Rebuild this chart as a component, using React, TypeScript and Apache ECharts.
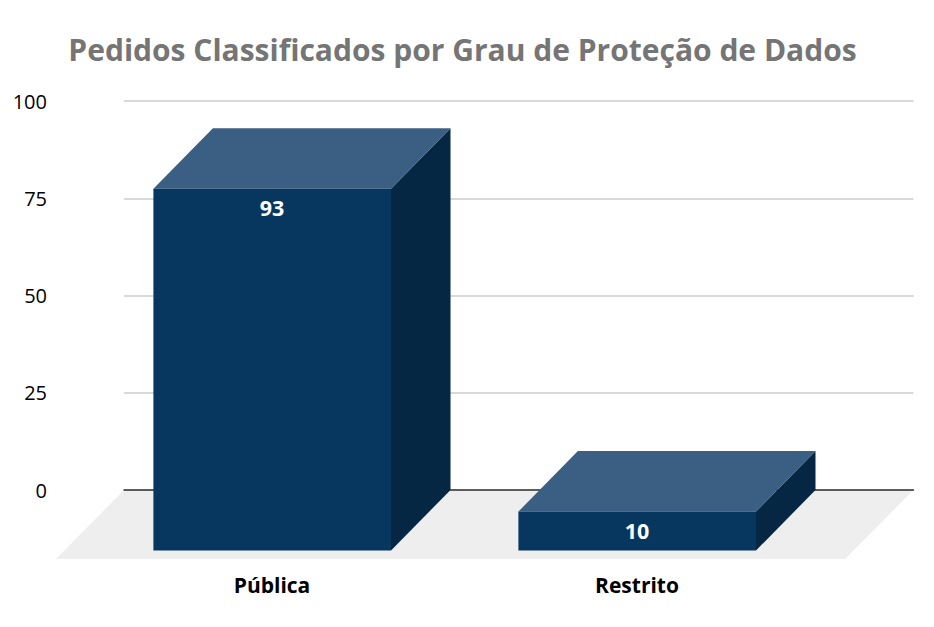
import React, { useEffect, useRef } from "react";
import * as echarts from "echarts";

const categories = ["Pública", "Restrito"];
const values = [93, 10];
const axisTicks = [0, 25, 50, 75, 100];
const titleText = "Pedidos Classificados por Grau de Proteção de Dados";
const depthX = 59.5;
const depthY = 60.5;

function renderBar(params: any, api: any) {
  const cat = api.value(0);
  const val = api.value(1);
  const centre = api.coord([cat, 0]);
  const top = api.coord([cat, val]);
  const bw = 237.6;
  const x0 = centre[0] - bw / 2 + 0.2;
  const x1 = x0 + bw;
  const yTopFront = top[1] + depthY;
  const yBottomFront = centre[1] + depthY;
  const poly = (pts: number[][], fill: string) => ({
    type: "polygon",
    shape: { points: pts },
    style: { fill },
  });
  return {
    type: "group",
    children: [
      poly(
        [
          [x1, yTopFront],
          [x1 + depthX, yTopFront - depthY],
          [x1 + depthX, yBottomFront - depthY],
          [x1, yBottomFront],
        ],
        "#052744"
      ),
      poly(
        [
          [x0, yTopFront],
          [x0 + depthX, yTopFront - depthY],
          [x1 + depthX, yTopFront - depthY],
          [x1, yTopFront],
        ],
        "#3A5F83"
      ),
      poly(
        [
          [x0, yTopFront],
          [x1, yTopFront],
          [x1, yBottomFront],
          [x0, yBottomFront],
        ],
        "#07365F"
      ),
      {
        type: "text",
        style: {
          x: centre[0],
          y: yTopFront + 19,
          text: String(val),
          fill: "#ffffff",
          font: "bold 21.5px 'Open Sans'",
          align: "center",
          verticalAlign: "middle",
        },
      },
    ],
  };
}

export default function App() {
  const ref = useRef<HTMLDivElement>(null);
  useEffect(() => {
    const chart = echarts.init(ref.current!, undefined, { renderer: "svg" });
    chart.setOption({
      animation: false,
      backgroundColor: "#ffffff",
      title: {
        text: titleText,
        left: 457.5,
        top: 29,
        textAlign: "center",
        textStyle: { color: "#757575", fontSize: 30, fontWeight: "bold", fontFamily: "Open Sans" },
      },
      graphic: [
        {
          type: "polygon",
          z: -1,
          shape: { points: [[124, 490], [913.5, 490], [845, 559], [56, 559]] },
          style: { fill: "#EEEEEE" },
        },
      ],
      grid: [
        { left: 124, right: 20.5, top: 101, bottom: 137 },
        { left: 89.5, width: 730, top: 101, bottom: 137 },
      ],
      xAxis: [
        {
          gridIndex: 0,
          type: "category",
          data: categories,
          axisLine: { show: true, lineStyle: { color: "#333333", width: 1.5 } },
          axisTick: { show: false },
          axisLabel: { show: false },
          splitLine: { show: false },
        },
        {
          gridIndex: 1,
          type: "category",
          data: categories,
          axisLine: { show: false },
          axisTick: { show: false },
          axisLabel: {
            margin: 84,
            color: "#000000",
            fontSize: 21,
            fontWeight: "bold",
            fontFamily: "Open Sans",
          },
        },
      ],
      yAxis: [
        {
          gridIndex: 0,
          type: "value",
          min: axisTicks[0],
          max: axisTicks[axisTicks.length - 1],
          interval: 25,
          axisLine: { show: false },
          axisTick: { show: false },
          axisLabel: {
            margin: 77,
            color: "#000000",
            fontSize: 20,
            fontFamily: "Open Sans",
          },
          splitLine: { lineStyle: { color: "#CCCCCC", width: 1.5 } },
        },
        {
          gridIndex: 1,
          type: "value",
          min: 0,
          max: 100,
          show: false,
        },
      ],
      series: [
        {
          type: "custom",
          xAxisIndex: 1,
          yAxisIndex: 1,
          clip: false,
          renderItem: renderBar,
          encode: { x: 0, y: 1 },
          data: categories.map((_, i) => [i, values[i]]),
        },
      ],
    });
    return () => chart.dispose();
  }, []);
  return <div ref={ref} style={{ width: 934, height: 627, position: "fixed", left: 0, top: 0 }} />;
}
